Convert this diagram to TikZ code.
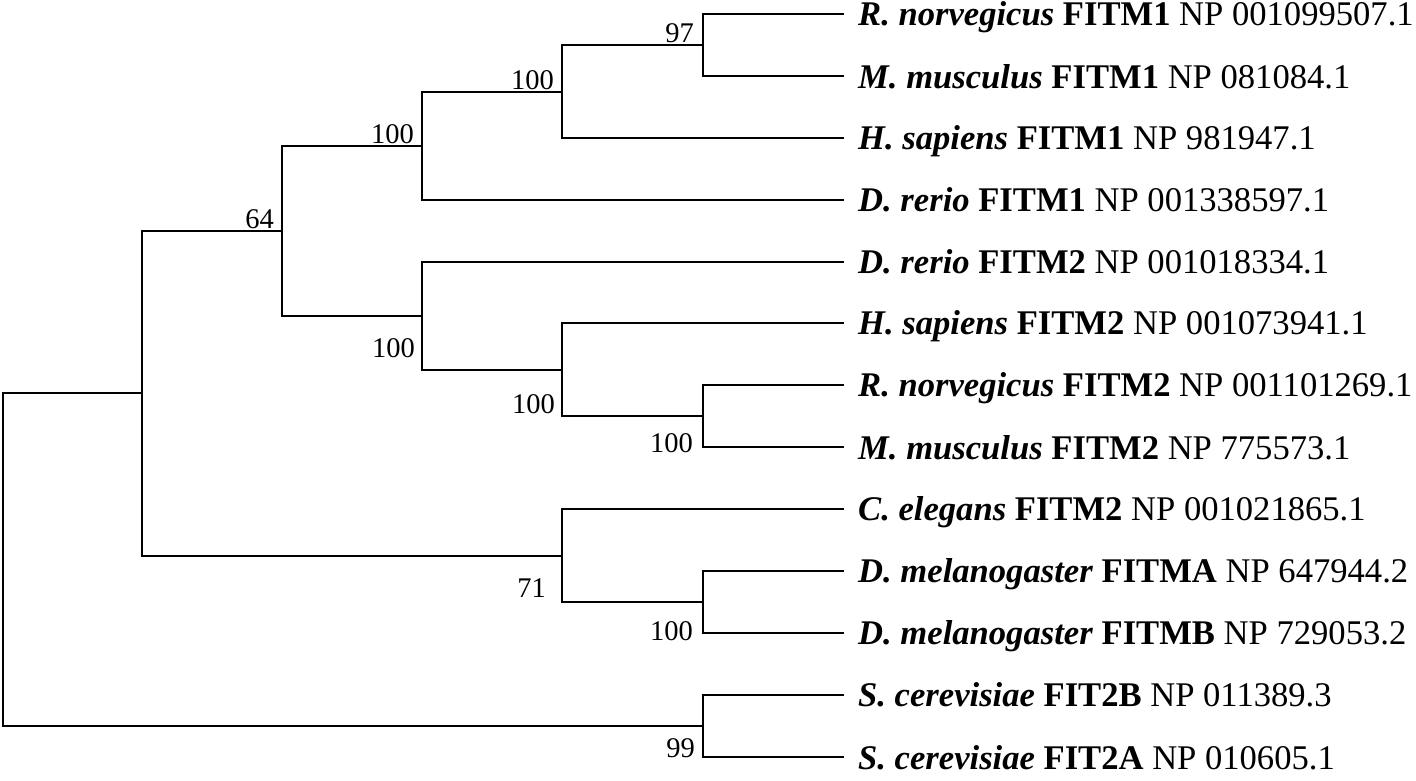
\documentclass[tikz,border=0pt]{standalone}
\usepackage{fontspec}
\setmainfont{Liberation Serif}
\newcommand{\taxon}[3]{\textbf{\textit{#1}} \textbf{#2} #3}

\begin{document}
\begin{tikzpicture}
[every node/.style={inner sep=0pt},
 branch/.style={line width=2.4pt, line join=miter, line cap=rect, color=black},
 leaflabel/.style={anchor=base west, font=\fontsize{34.6}{40}\selectfont},
 support/.style={anchor=base east, font=\fontsize{28.5}{34}\selectfont}]
\useasboundingbox (0pt, 0pt) rectangle (1416pt, -780pt);
% internal nodes
\coordinate (root) at (3pt, -560pt);
\coordinate (H) at (142pt, -393pt);
\coordinate (D) at (282pt, -231pt);
\coordinate (C) at (422pt, -146pt);
\coordinate (B) at (562pt, -92pt);
\coordinate (A) at (703pt, -45pt);
\coordinate (E) at (422pt, -316pt);
\coordinate (F) at (562pt, -370pt);
\coordinate (G) at (703pt, -416pt);
\coordinate (I) at (562pt, -556pt);
\coordinate (J) at (703pt, -602pt);
\coordinate (K) at (703pt, -726pt);
% leaf tips
\coordinate (t1) at (843pt, -14pt);
\coordinate (t2) at (843pt, -76pt);
\coordinate (t3) at (843pt, -138pt);
\coordinate (t4) at (843pt, -200pt);
\coordinate (t5) at (843pt, -262pt);
\coordinate (t6) at (843pt, -323pt);
\coordinate (t7) at (843pt, -385pt);
\coordinate (t8) at (843pt, -447pt);
\coordinate (t9) at (843pt, -509pt);
\coordinate (t10) at (843pt, -571pt);
\coordinate (t11) at (843pt, -633pt);
\coordinate (t12) at (843pt, -695pt);
\coordinate (t13) at (843pt, -757pt);
% leaf names
\node (l1) [leaflabel] at (858pt, -25pt) {\taxon{R. norvegicus}{FITM1}{NP 001099507.1}};
\node (l2) [leaflabel] at (858pt, -88pt) {\taxon{M. musculus}{FITM1}{NP 081084.1}};
\node (l3) [leaflabel] at (858pt, -149pt) {\taxon{H. sapiens}{FITM1}{NP 981947.1}};
\node (l4) [leaflabel] at (858pt, -211pt) {\taxon{D. rerio}{FITM1}{NP 001338597.1}};
\node (l5) [leaflabel] at (858pt, -273pt) {\taxon{D. rerio}{FITM2}{NP 001018334.1}};
\node (l6) [leaflabel] at (858pt, -334pt) {\taxon{H. sapiens}{FITM2}{NP 001073941.1}};
\node (l7) [leaflabel] at (858pt, -396pt) {\taxon{R. norvegicus}{FITM2}{NP 001101269.1}};
\node (l8) [leaflabel] at (858pt, -459pt) {\taxon{M. musculus}{FITM2}{NP 775573.1}};
\node (l9) [leaflabel] at (858pt, -520pt) {\taxon{C. elegans}{FITM2}{NP 001021865.1}};
\node (l10) [leaflabel] at (858pt, -582pt) {\taxon{D. melanogaster}{FITMA}{NP 647944.2}};
\node (l11) [leaflabel] at (858pt, -644pt) {\taxon{D. melanogaster}{FITMB}{NP 729053.2}};
\node (l12) [leaflabel] at (858pt, -706pt) {\taxon{S. cerevisiae}{FIT2B}{NP 011389.3}};
\node (l13) [leaflabel] at (858pt, -769pt) {\taxon{S. cerevisiae}{FIT2A}{NP 010605.1}};
% bootstrap values
\node (sA) [support] at (694pt, -42pt) {97};
\node (sB) [support] at (554pt, -89pt) {100};
\node (sC) [support] at (414pt, -143pt) {100};
\node (sD) [support] at (274pt, -228pt) {64};
\node (sE) [support] at (415pt, -357pt) {100};
\node (sF) [support] at (555pt, -413pt) {100};
\node (sG) [support] at (693pt, -452pt) {100};
\node (sI) [support] at (546pt, -597pt) {71};
\node (sJ) [support] at (693pt, -640pt) {100};
\node (sK) [support] at (695pt, -757pt) {99};
% branches
\draw [branch] (root) |- (H);
\draw [branch] (root) |- (K);
\draw [branch] (H) |- (D);
\draw [branch] (H) |- (I);
\draw [branch] (D) |- (C);
\draw [branch] (D) |- (E);
\draw [branch] (C) |- (B);
\draw [branch] (C) |- (t4);
\draw [branch] (B) |- (A);
\draw [branch] (B) |- (t3);
\draw [branch] (A) |- (t1);
\draw [branch] (A) |- (t2);
\draw [branch] (E) |- (t5);
\draw [branch] (E) |- (F);
\draw [branch] (F) |- (t6);
\draw [branch] (F) |- (G);
\draw [branch] (G) |- (t7);
\draw [branch] (G) |- (t8);
\draw [branch] (I) |- (t9);
\draw [branch] (I) |- (J);
\draw [branch] (J) |- (t10);
\draw [branch] (J) |- (t11);
\draw [branch] (K) |- (t12);
\draw [branch] (K) |- (t13);
\end{tikzpicture}
\end{document}
